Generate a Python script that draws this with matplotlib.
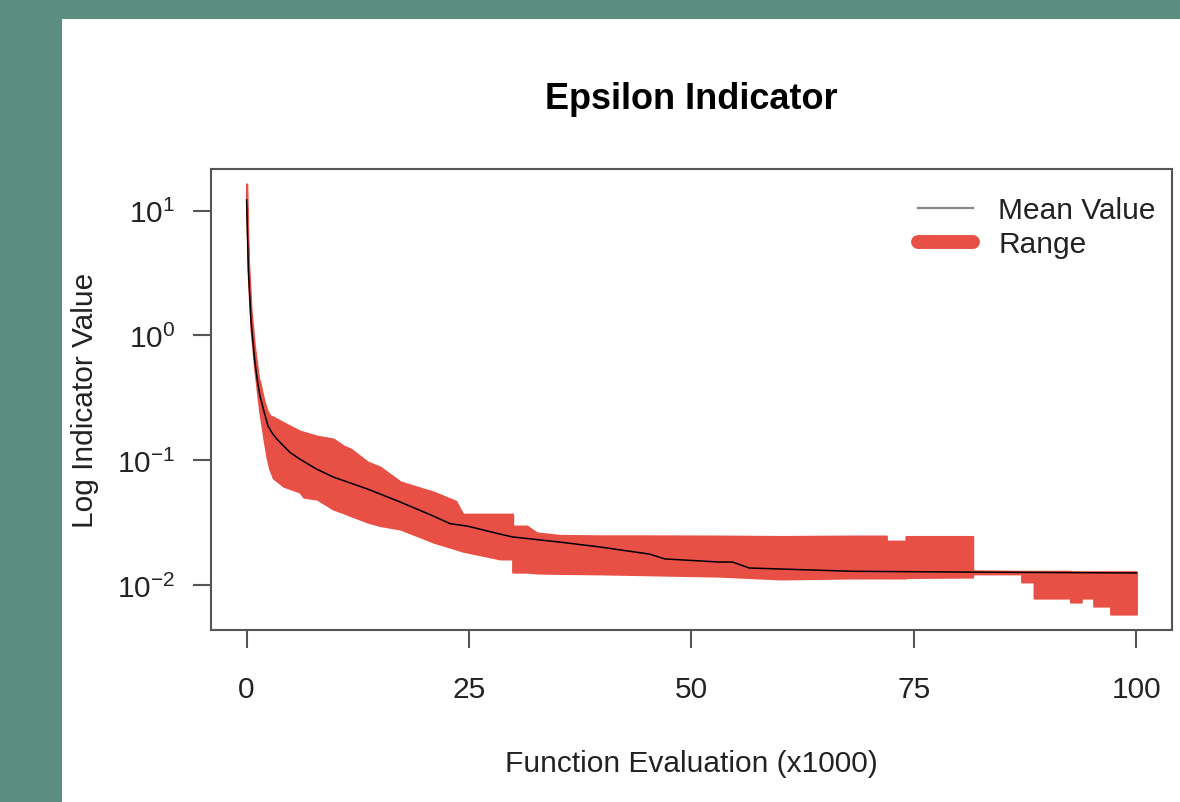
import numpy as np
import matplotlib
matplotlib.use("Agg")
import matplotlib.pyplot as plt
from matplotlib.lines import Line2D
from matplotlib.patches import Rectangle

plt.rcParams["font.family"] = ["Liberation Sans", "DejaVu Sans"]
plt.rcParams["mathtext.fontset"] = "custom"
plt.rcParams["mathtext.rm"] = "Liberation Sans"
plt.rcParams["mathtext.it"] = "Liberation Sans:italic"
plt.rcParams["mathtext.bf"] = "Liberation Sans:bold"

# range band (min / max over runs), x in thousands of evaluations
band_x = [0, 0.2, 0.5, 0.9, 1.35, 1.5, 1.9, 2.0, 2.3, 2.6, 3.0, 4.15, 6.0, 6.4, 7.9,
          9.75, 10.9, 11.7, 13.6, 15.0, 17.3, 21.0, 23.5, 24.3, 28.5, 29.9, 29.9,
          31.5, 32.6, 35.2, 39.7, 45.0, 53.1, 60.0, 68.0, 71.9, 71.9, 74.1, 74.1,
          81.6, 81.6, 87.1, 87.1, 88.5, 88.5, 92.6, 92.6, 93.8, 93.8, 95.2, 95.2,
          97.1, 97.1, 100]
band_hi = [16.4, 4.2, 1.6, 0.8, 0.45, 0.42, 0.31, 0.29, 0.25, 0.228, 0.222, 0.20, 0.171,
           0.168, 0.156, 0.148, 0.130, 0.123, 0.0968, 0.0883, 0.067, 0.0556, 0.047,
           0.037, 0.037, 0.037, 0.0297, 0.0297, 0.0262, 0.0250, 0.0248, 0.0248,
           0.0247, 0.0245, 0.0247, 0.0247, 0.0225, 0.0225, 0.0245, 0.0245, 0.0130,
           0.0129, 0.0129, 0.0129, 0.0129, 0.0129, 0.0128, 0.0128, 0.0128, 0.0128,
           0.0128, 0.0128, 0.0128, 0.0128]
band_lo = [11.0, 2.9, 1.1, 0.55, 0.29, 0.24, 0.156, 0.14, 0.105, 0.085, 0.072, 0.062,
           0.0556, 0.0507, 0.0489, 0.0406, 0.038, 0.036, 0.032, 0.030, 0.0281, 0.0221,
           0.0195, 0.0187, 0.0162, 0.0162, 0.0127, 0.0127, 0.0125, 0.0124, 0.0123,
           0.0121, 0.0118, 0.0112, 0.0114, 0.0114, 0.0114, 0.0114, 0.0115, 0.0116,
           0.0123, 0.0123, 0.0106, 0.0106, 0.00787, 0.00787, 0.00731, 0.00731,
           0.00787, 0.00787, 0.00679, 0.00679, 0.00586, 0.00586]

# mean value over runs
mean_x = [0, 0.2, 0.5, 0.9, 1.2, 1.5, 1.9, 2.4, 2.9, 3.4, 4.85, 6.0, 7.85, 9.75, 13.6,
          17.3, 21.0, 22.9, 24.8, 28.5, 29.9, 35.2, 39.7, 45.3, 47.0, 53.1, 54.6,
          56.5, 68.0, 81.6, 100]
mean_y = [12.2, 3.4, 1.3, 0.647, 0.44, 0.329, 0.255, 0.189, 0.164, 0.148, 0.116,
          0.102, 0.0851, 0.0734, 0.0588, 0.0462, 0.0357, 0.031, 0.0297, 0.0256,
          0.0243, 0.0221, 0.0202, 0.0177, 0.0162, 0.0153, 0.0153, 0.0137, 0.0129,
          0.0127, 0.0125]

x_ticks = [0, 25, 50, 75, 100]
y_ticks = [0.01, 0.1, 1, 10]

red = "#e84f45"
ink = "#222222"
edge = "#555555"

fig = plt.figure(figsize=(11.8, 8.03), dpi=100)
fig.patch.set_facecolor("#5c8e80")
fig.patches.append(Rectangle((62 / 1180, 0), 1, 1 - 20 / 803, transform=fig.transFigure,
                             facecolor="white", edgecolor="none", zorder=-10))

ax = fig.add_axes([211 / 1180, 1 - 631 / 803, 961 / 1180, 461 / 803])
ax.fill_between(band_x, band_lo, band_hi, facecolor=red, edgecolor=red, lw=1.5)
ax.plot(mean_x, mean_y, color="black", lw=1.1)

ax.set_yscale("log")
ax.set_xlim(-4, 104)
ax.set_ylim(10 ** -2.36, 10 ** 1.334)
ax.set_xticks(x_ticks)
ax.set_yticks(y_ticks)
ax.minorticks_off()

for s in ax.spines.values():
    s.set_color(edge)
    s.set_linewidth(1.5)
ax.tick_params(axis="both", direction="out", length=13, width=1.5, color=edge,
               labelsize=21.5, labelcolor=ink)
ax.tick_params(axis="x", pad=19.5)
ax.tick_params(axis="y", pad=13)

ax.set_xlabel("Function Evaluation (x1000)", fontsize=21.5, color=ink)
ax.set_ylabel("Log Indicator Value", fontsize=21.5, color=ink)
ax.xaxis.set_label_coords(0.5, -0.259)
ax.yaxis.set_label_coords(-0.117, 0.5)
ax.text(0.5, 1.132, "Epsilon Indicator", transform=ax.transAxes, ha="center",
        va="baseline", fontsize=26, fontweight="bold", color="black")

handles = [Line2D([], [], color="#888888", lw=1.6),
           Line2D([], [], color=red, lw=10, solid_capstyle="round")]
ax.legend(handles, ["Mean Value", "Range"], loc="upper right",
          bbox_to_anchor=(1 - 16 / 961, 1 - 27 / 461), frameon=False,
          fontsize=21.5, handlelength=1.83, handletextpad=0.87,
          labelspacing=0.2, borderpad=0, borderaxespad=0, labelcolor=ink)

fig.savefig("out.png", dpi=100)
